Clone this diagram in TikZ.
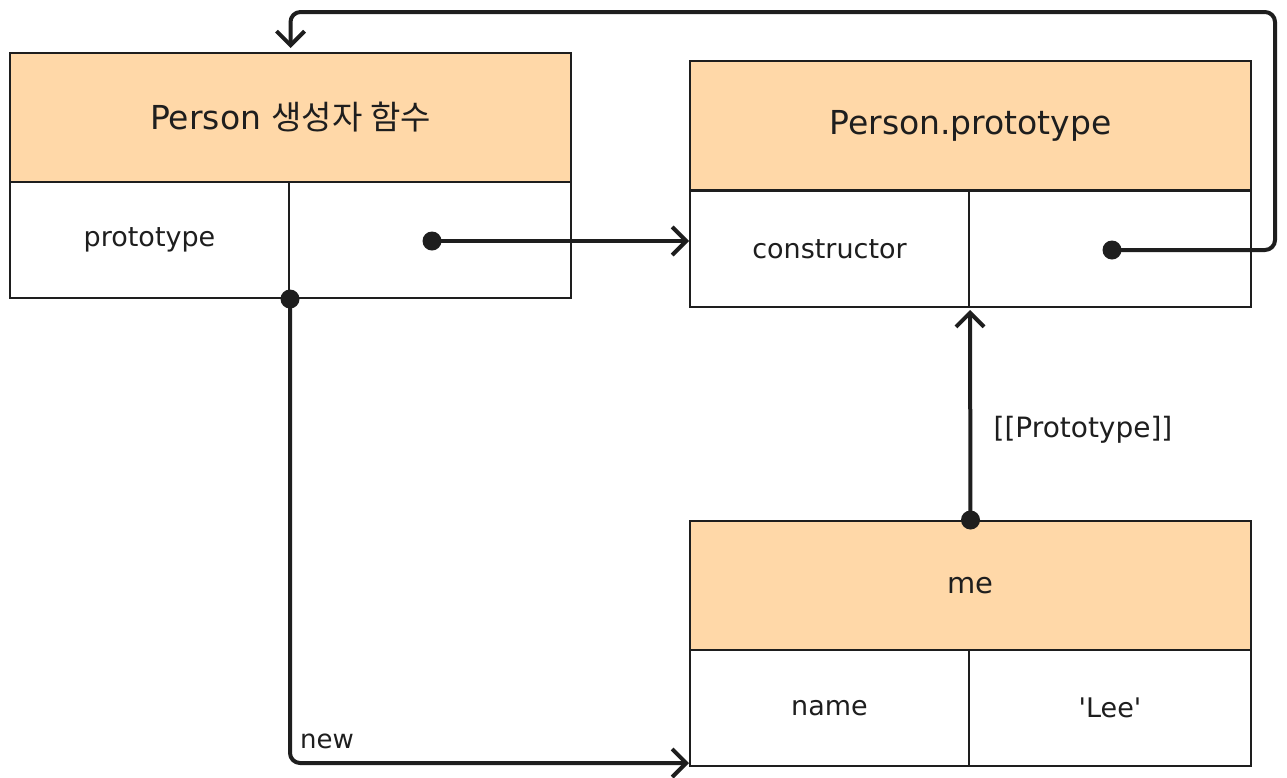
\documentclass[tikz,border=0pt]{standalone}
\usepackage{fontspec}
\setmainfont{DejaVu Sans}
\newfontfamily\krfont{Noto Sans CJK KR}
\usetikzlibrary{arrows.meta,calc}
\definecolor{ink}{HTML}{1E1E1E}
\definecolor{hdrfill}{HTML}{FFD8A8}
\tikzset{
  cell/.style={draw=ink, line width=2pt, rectangle, inner sep=0pt, anchor=north west, text=ink, font=\fontsize{27}{31}\selectfont},
  hdr/.style={cell, fill=hdrfill, minimum width=561pt, minimum height=129pt, font=\fontsize{33}{38}\selectfont},
  kcell/.style={cell, fill=white, minimum width=279pt, minimum height=116pt},
  vcell/.style={cell, fill=white, minimum width=282pt, minimum height=116pt},
  conn/.style={draw=ink, line width=4pt, line cap=round, line join=round, rounded corners=10pt, -{Straight Barb[length=14pt, width=28pt, line width=4pt]}},
  dotmark/.style={fill=ink},
  lbl/.style={text=ink, font=\fontsize{28}{32}\selectfont, inner sep=0pt}
}
\begin{document}
\begin{tikzpicture}[x=1pt,y=-1pt]
\useasboundingbox[fill=white] (0,0) rectangle (1287,777);
% Box A
\node[hdr] (headA) at (9,52) {Person {\krfont 생성자 함수}};
\node[kcell] (keyA) at (9,181) {prototype};
\node[vcell] (valA) at (288,181) {};
% Box B
\node[hdr] (headB) at (689,60) {Person.prototype};
\node[kcell] (keyB) at (689,190) {constructor};
\node[vcell] (valB) at (968,190) {};
% Box C
\node[hdr, font=\fontsize{29}{34}\selectfont] (headC) at (689,520) {me};
\node[kcell] (keyC) at (689,649) {name};
\node[vcell] (valC) at (968,649) {\textquotesingle Lee\textquotesingle};
% coordinates
\coordinate (dA) at (432,241);
\coordinate (dB) at (1112,250);
\coordinate (loopTR) at (1275,12);
\coordinate (dNew) at (keyA.south east);
\coordinate (newEnd) at ($(keyC.south west)+(0,-4)$);
\coordinate (dC) at (headC.north);
% connectors
\draw[conn] (dA) -- (dA -| keyB.west);
\draw[conn] (dB) -| (loopTR) -| ($(headA.north)+(0,-4)$);
\draw[conn] (dNew) |- (newEnd);
\draw[conn] (dC) -- ($(keyB.south east)+(0,2)$);
% dots
\fill[dotmark] (dA) circle (9.5pt);
\fill[dotmark] (dB) circle (9.5pt);
\fill[dotmark] (dNew) circle (9.5pt);
\fill[dotmark] (dC) circle (9.5pt);
% labels
\node[lbl, font=\fontsize{26}{30}\selectfont] (lblNew) at (327,741) {new};
\node[lbl] (lblProto) at (1083,430) {[[Prototype]]};
\end{tikzpicture}
\end{document}
